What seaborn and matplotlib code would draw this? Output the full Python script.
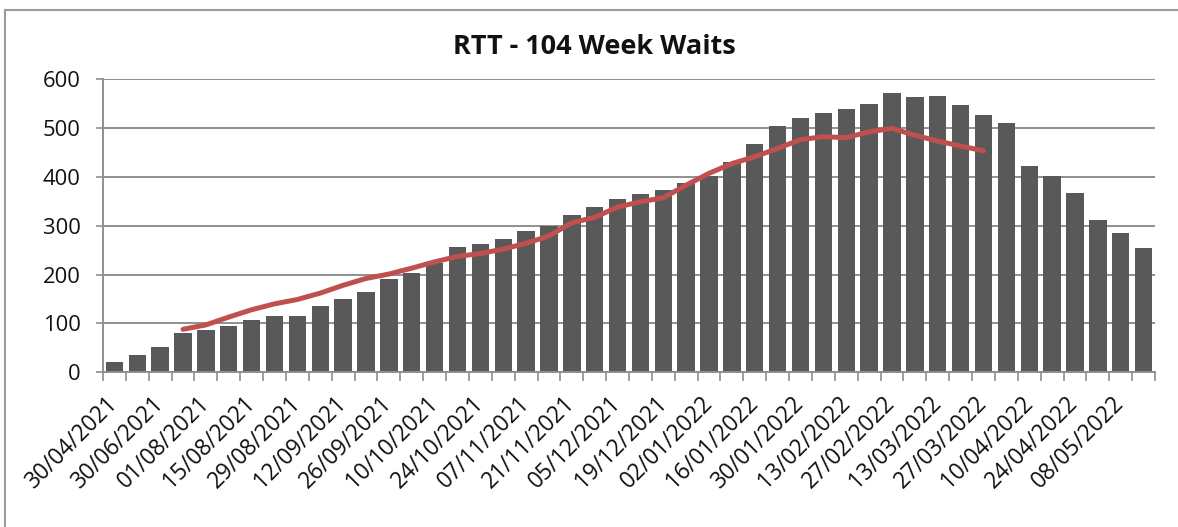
"""
RTT - 104 week waits: weekly bar chart with a trend line overlaid.
"""
import matplotlib
matplotlib.use("Agg")
import matplotlib.pyplot as plt
import numpy as np
import pandas as pd
import seaborn as sns
from matplotlib.patches import Rectangle

# --- data ---
week_labels = [
    "30/04/2021", "31/05/2021", "30/06/2021", "25/07/2021", "01/08/2021",
    "08/08/2021", "15/08/2021", "22/08/2021", "29/08/2021", "05/09/2021",
    "12/09/2021", "19/09/2021", "26/09/2021", "03/10/2021", "10/10/2021",
    "17/10/2021", "24/10/2021", "31/10/2021", "07/11/2021", "14/11/2021",
    "21/11/2021", "28/11/2021", "05/12/2021", "12/12/2021", "19/12/2021",
    "26/12/2021", "02/01/2022", "09/01/2022", "16/01/2022", "23/01/2022",
    "30/01/2022", "06/02/2022", "13/02/2022", "20/02/2022", "27/02/2022",
    "06/03/2022", "13/03/2022", "20/03/2022", "27/03/2022", "03/04/2022",
    "10/04/2022", "17/04/2022", "24/04/2022", "01/05/2022", "08/05/2022",
    "15/05/2022",
]
waits = [
    21, 36, 51, 81, 87, 94, 108, 116, 116, 136,
    151, 164, 190, 204, 223, 256, 262, 273, 290, 300,
    321, 338, 354, 365, 372, 387, 401, 431, 468, 504,
    521, 531, 539, 549, 571, 564, 565, 547, 526, 510,
    423, 401, 367, 311, 284, 255,
]
trend = [None] * 3 + [
    88, 97, 113, 128, 140, 149, 162, 178, 192, 201,
    213, 226, 237, 243, 252, 264, 279, 306, 317, 338,
    349, 357, 383, 407, 427, 441, 458, 476, 482, 480,
    492, 499, 485, 473, 463, 453,
] + [None] * 7
y_ticks = [0, 100, 200, 300, 400, 500, 600]

BAR_COLOUR = "#595959"
LINE_COLOUR = "#C0504D"
GRID_COLOUR = "#8f8f8f"
TEXT_COLOUR = "#111111"

sns.set_theme(style="white")
plt.rcParams["font.family"] = ["Open Sans", "DejaVu Sans"]

df = pd.DataFrame({"week": week_labels, "waits": waits,
                   "trend": pd.array(trend, dtype="Float64")})
df["pos"] = np.arange(len(df))

fig = plt.figure(figsize=(11.78, 5.27), dpi=100)
ax = fig.add_axes([0.0874, 0.2935, 0.8931, 0.5566])

sns.barplot(data=df, x="week", y="waits", color=BAR_COLOUR, saturation=1,
            width=0.76, linewidth=0, ax=ax, zorder=2)
line_df = df.dropna(subset=["trend"]).astype({"trend": float})
sns.lineplot(data=line_df, x="pos", y="trend", color=LINE_COLOUR,
             linewidth=3.6, ax=ax, zorder=3)

ax.set_xlim(-0.5, len(df) - 0.5)
ax.set_ylim(0, 600)
ax.set_yticks(y_ticks)
ax.yaxis.grid(True, color=GRID_COLOUR, linewidth=1.4, zorder=0)
ax.set_axisbelow(True)

# label every other week, tick marks at every category boundary
ax.set_xticks(df["pos"][::2])
ax.set_xticklabels(df["week"][::2], rotation=45, ha="right", va="center",
                   rotation_mode="anchor", fontsize=16.3, color=TEXT_COLOUR)
ax.set_xticks(np.arange(len(df) + 1) - 0.5, minor=True)
ax.tick_params(axis="x", which="major", length=0, pad=20)
ax.tick_params(axis="x", which="minor", length=6.5, width=1.2,
               color=GRID_COLOUR, direction="out", bottom=True)
ax.tick_params(axis="y", length=5, width=1.2, color=GRID_COLOUR,
               direction="out", left=True, pad=11, labelsize=15.8,
               labelcolor=TEXT_COLOUR)
ax.set_xlabel("")
ax.set_ylabel("")

for side in ["top", "right"]:
    ax.spines[side].set_visible(False)
for side in ["left", "bottom"]:
    ax.spines[side].set_color(GRID_COLOUR)
    ax.spines[side].set_linewidth(1.4)

fig.text(594 / 1178, 1 - 47 / 527, "RTT - 104 Week Waits", ha="center",
         va="center", fontsize=19.5, fontweight="bold", color=TEXT_COLOUR)

# chart-area border (runs off the right and bottom edges)
fig.patches.append(Rectangle((5 / 1178, -0.1), 1.2, 0.981 + 0.1,
                             transform=fig.transFigure, fill=False,
                             edgecolor="#9a9a9a", linewidth=1.5))

fig.savefig("out.png", dpi=100)
plt.close(fig)
